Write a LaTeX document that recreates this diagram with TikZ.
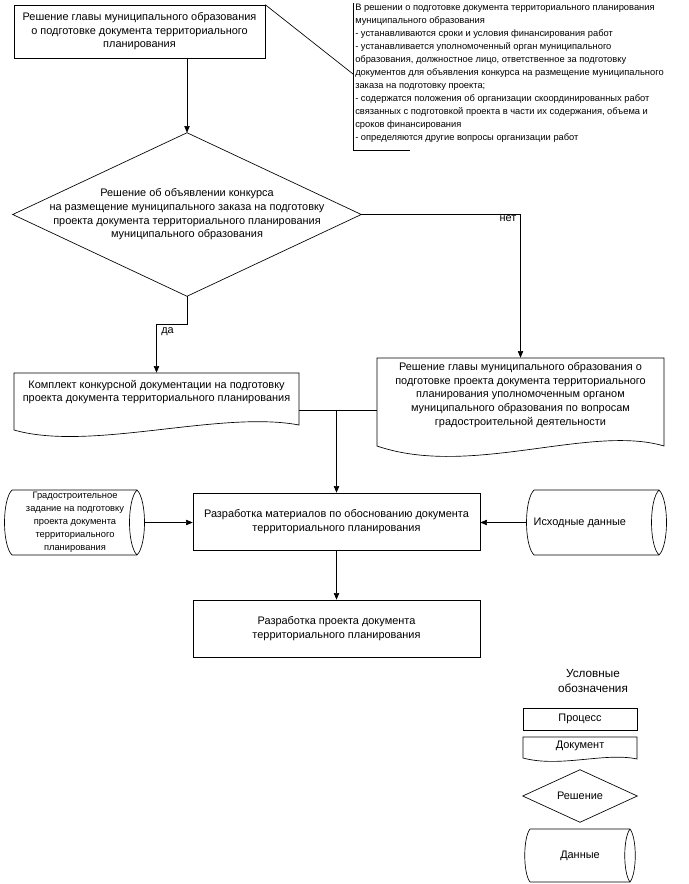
\documentclass[tikz,border=0pt]{standalone}
\usepackage{fontspec}
\setmainfont{Liberation Sans}
\usetikzlibrary{arrows.meta}
\tikzset{
  base/.style={inner sep=0pt, align=center, font=\fontsize{8.2}{10.2}\selectfont},
  proc/.style={base, draw},
  ghost/.style={base},
  shp/.style={draw, line width=0.5pt},
  arr/.style={-{Triangle[length=5pt,width=4pt]}, line width=0.5pt},
  ln/.style={line width=0.5pt},
  small/.style={font=\fontsize{7}{9.7}\selectfont}
}
\begin{document}
\begin{tikzpicture}[x=0.75pt,y=-0.75pt]
\useasboundingbox (0,0) rectangle (688,884);

% box 1
\node[proc, minimum width=251*0.75pt, minimum height=53*0.75pt] (b1) at (139.5,31.5)
 {Решение главы муниципального образования\\о подготовке документа территориального\\планирования};

% note
\node[base, small, align=left, anchor=north west] (note) at (355,4)
 {В решении о подготовке документа территориального планирования\\
  муниципального образования\\
  - устанавливаются сроки и условия финансирования работ\\
  - устанавливается уполномоченный орган муниципального\\
  образования, должностное лицо, ответственное за подготовку\\
  документов для объявления конкурса на размещение муниципального\\
  заказа на подготовку проекта;\\
  - содержатся положения об организации скоординированных работ\\
  связанных с подготовкой проекта в части их содержания, объема и\\
  сроков финансирования\\
  - определяются другие вопросы организации работ};
\coordinate (brk) at (353,74);
\draw[ln] (353,3) -- (353,150) -- (410,150);
\draw[ln] (b1.north east) -- (brk);

% diamond
\node[ghost, minimum width=348*0.75pt, minimum height=163*0.75pt] (d1) at (187,214.5)
 {Решение об объявлении конкурса\\на размещение муниципального заказа на подготовку\\проекта документа территориального планирования\\муниципального образования};
\draw[shp] (d1.north) -- (d1.east) -- (d1.south) -- (d1.west) -- cycle;
\draw[arr] (b1.south -| d1.north) -- (d1.north);

% doc1
\node[ghost, minimum width=285*0.75pt, minimum height=38*0.75pt] (doc1) at (156.5,392)
 {Комплект конкурсной документации на подготовку\\проекта документа территориального планирования};
\draw[shp] (14,373) -- (299,373) -- (299,425) .. controls (220,410) and (90,452) .. (14,430) -- cycle;

% doc2
\node[ghost, minimum width=287*0.75pt, minimum height=74*0.75pt] (doc2) at (520.5,395)
 {Решение главы муниципального образования о\\подготовке проекта документа территориального\\планирования уполномоченным органом\\муниципального образования по вопросам\\градостроительной деятельности};
\draw[shp] (377,358) -- (664,358) -- (664,446) .. controls (590,424) and (470,478) .. (377,446) -- cycle;

\draw[arr] (d1.south) -- (187,324) -| (doc1.north);
\node[base, anchor=west] (da) at (161,332) {да};
\draw[arr] (d1.east) -| (doc2.north);
\node[base] (net) at (508,219) {нет};

% box 2
\node[proc, minimum width=287*0.75pt, minimum height=57*0.75pt] (b2) at (336.5,521.5)
 {Разработка материалов по обоснованию документа\\территориального планирования};
\coordinate (j) at (336.5,410);
\draw[ln] (299,410) -- (377,410);
\draw[arr] (j) -- (b2.north);

% cylinders
\node[ghost, small, minimum width=140*0.75pt, minimum height=65*0.75pt] (cl) at (75,522.5)
 {Градостроительное\\задание на подготовку\\проекта документа\\территориального\\планирования};
\draw[shp] (12,490) -- (137,490) .. controls (147,500) and (147,545) .. (137,555) -- (12,555) .. controls (2,545) and (2,500) .. (12,490);
\draw[shp] (137,490) .. controls (127,500) and (127,545) .. (137,555);
\node[ghost, minimum width=139*0.75pt, minimum height=65*0.75pt] (cr) at (596.5,522.5) {\hspace*{-25pt}Исходные данные};
\draw[shp] (534,490) -- (659,490) .. controls (669,500) and (669,545) .. (659,555) -- (534,555) .. controls (524,545) and (524,500) .. (534,490);
\draw[shp] (659,490) .. controls (649,500) and (649,545) .. (659,555);
\draw[arr] (cl.east) -- (cl.east -| b2.west);
\draw[arr] (cr.west) -- (cr.west -| b2.east);

% box 3
\node[proc, minimum width=287*0.75pt, minimum height=57*0.75pt] (b3) at (336.5,628.5)
 {Разработка проекта документа\\территориального планирования};
\draw[arr] (b2.south) -- (b3.north);

% legend
\node[base, font=\fontsize{8.8}{11.5}\selectfont] (lt) at (593,681) {Условные\\обозначения};
\node[proc, minimum width=114*0.75pt, minimum height=22*0.75pt] (lp) at (580,719) {Процесс};
\node[ghost, minimum width=114*0.75pt, minimum height=16*0.75pt] (ld) at (580,746) {Документ};
\draw[shp] (523,737) -- (637,737) -- (637,759) .. controls (605,752) and (560,768) .. (523,758) -- cycle;
\node[ghost, minimum width=114*0.75pt, minimum height=52*0.75pt] (lr) at (580,796) {Решение};
\draw[shp] (lr.north) -- (lr.east) -- (lr.south) -- (lr.west) -- cycle;
\node[ghost, minimum width=110*0.75pt, minimum height=53*0.75pt] (lc) at (580,855.5) {Данные};
\draw[shp] (530,829) -- (630,829) .. controls (637,838) and (637,873) .. (630,882) -- (530,882) .. controls (523,873) and (523,838) .. (530,829);
\draw[shp] (630,829) .. controls (623,838) and (623,873) .. (630,882);
\end{tikzpicture}
\end{document}
